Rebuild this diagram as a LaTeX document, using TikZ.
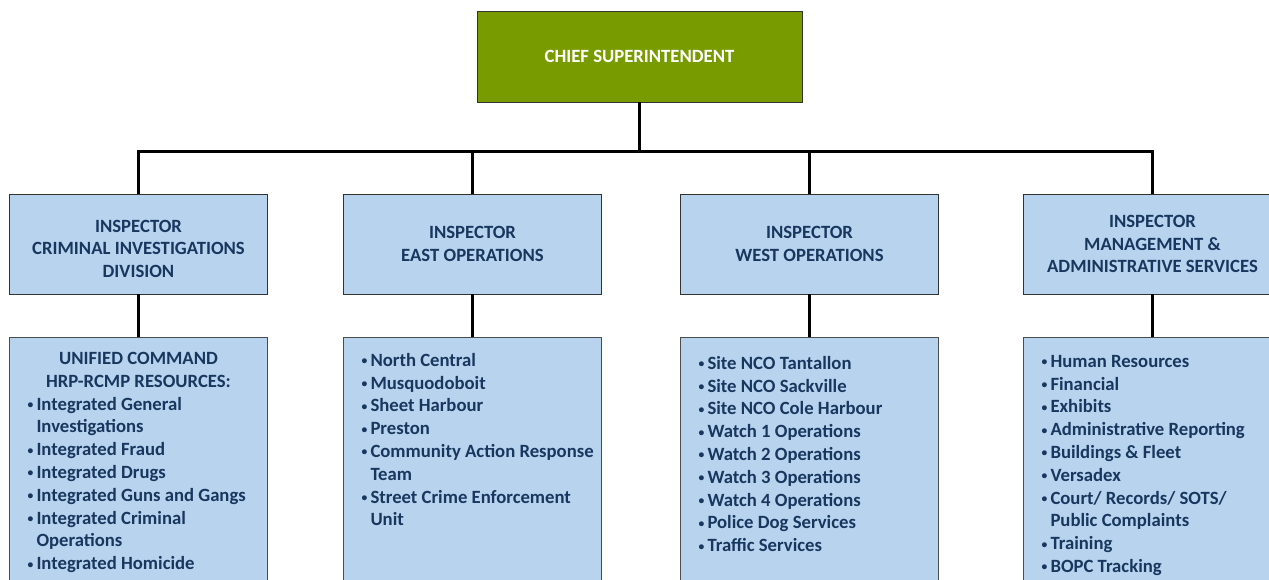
\documentclass[tikz,border=0pt]{standalone}
\usepackage{fontspec}
\setmainfont{Carlito}
\usepackage{enumitem}
\definecolor{chiefgreen}{HTML}{789C00}
\definecolor{boxblue}{HTML}{B8D3EE}
\definecolor{inktext}{HTML}{17375E}
\newcommand{\orgfont}{\fontsize{18.7}{22.8}\selectfont\bfseries}
\newcommand{\unitbullet}{\raisebox{1.6pt}{\scalebox{0.62}{\textbullet}}}
\newenvironment{unitlist}{\begin{itemize}[leftmargin=27pt,labelsep=3pt,label=\unitbullet,itemsep=0pt,topsep=0pt,parsep=0pt,partopsep=0pt]}{\end{itemize}}
\newcommand{\unitpanel}[2][15pt]{\begin{minipage}[t][300pt][t]{258pt}\raggedright\hyphenpenalty=10000\exhyphenpenalty=10000\vspace*{#1}#2\end{minipage}}

\tikzset{
  chiefbox/.style={draw=black!80, fill=chiefgreen, text=white, minimum width=325pt, minimum height=91pt, font=\orgfont},
  inspbox/.style={draw=black!80, fill=boxblue, text=inktext, minimum width=258pt, minimum height=100pt, align=center, font=\orgfont},
  unitbox/.style={draw=black!70, fill=boxblue, text=inktext, anchor=north, inner sep=0pt, font=\orgfont},
  link/.style={line width=3pt, black},
}

\begin{document}
\begin{tikzpicture}[x=1pt,y=-1pt]

\useasboundingbox (0,0) rectangle (1269,580);

\node[chiefbox] (chief) at (639.5,56.5) {CHIEF SUPERINTENDENT};

\node[inspbox] (cid) at (138.5,244) {\rule{0pt}{22pt}INSPECTOR\\CRIMINAL INVESTIGATIONS\\DIVISION};
\node[inspbox] (east) at (472.5,244) {INSPECTOR\\EAST OPERATIONS};
\node[inspbox] (west) at (809.5,244) {INSPECTOR\\WEST OPERATIONS};
\node[inspbox] (mas) at (1152.5,244) {INSPECTOR\\MANAGEMENT \&\\ADMINISTRATIVE SERVICES};

% units under each inspector
\node[unitbox] (cidunits) at (138.5,337) {\unitpanel[15pt]{%
  {\centering UNIFIED COMMAND\\HRP-RCMP RESOURCES:\par}
  \begin{unitlist}
  \item Integrated General Investigations
  \item Integrated Fraud
  \item Integrated Drugs
  \item Integrated Guns and Gangs
  \item Integrated Criminal Operations
  \item Integrated Homicide
  \end{unitlist}}};
\node[unitbox] (eastunits) at (472.5,337) {\unitpanel[16pt]{%
  \begin{unitlist}
  \item North Central
  \item Musquodoboit
  \item Sheet Harbour
  \item Preston
  \item Community Action Response Team
  \item Street Crime Enforcement Unit
  \end{unitlist}}};
\node[unitbox] (westunits) at (809.5,337) {\unitpanel[19pt]{%
  \begin{unitlist}
  \item Site NCO Tantallon
  \item Site NCO Sackville
  \item Site NCO Cole Harbour
  \item Watch 1 Operations
  \item Watch 2 Operations
  \item Watch 3 Operations
  \item Watch 4 Operations
  \item Police Dog Services
  \item Traffic Services
  \end{unitlist}}};
\node[unitbox] (masunits) at (1152.5,337) {\unitpanel[18pt]{%
  \begin{unitlist}
  \item Human Resources
  \item Financial
  \item Exhibits
  \item Administrative Reporting
  \item Buildings \& Fleet
  \item Versadex
  \item Court/ Records/ SOTS/\\Public Complaints
  \item Training
  \item BOPC Tracking
  \end{unitlist}}};

% connectors
\coordinate (bus) at (639.5,152);
\draw[link] (chief.south) -- (bus);
\draw[link] (cid.north) |- (bus) -| (mas.north);
\draw[link] (east.north) -- (east.north |- bus);
\draw[link] (west.north) -- (west.north |- bus);
\draw[link] (cid.south) -- (cidunits.north);
\draw[link] (east.south) -- (eastunits.north);
\draw[link] (west.south) -- (westunits.north);
\draw[link] (mas.south) -- (masunits.north);

\end{tikzpicture}
\end{document}
